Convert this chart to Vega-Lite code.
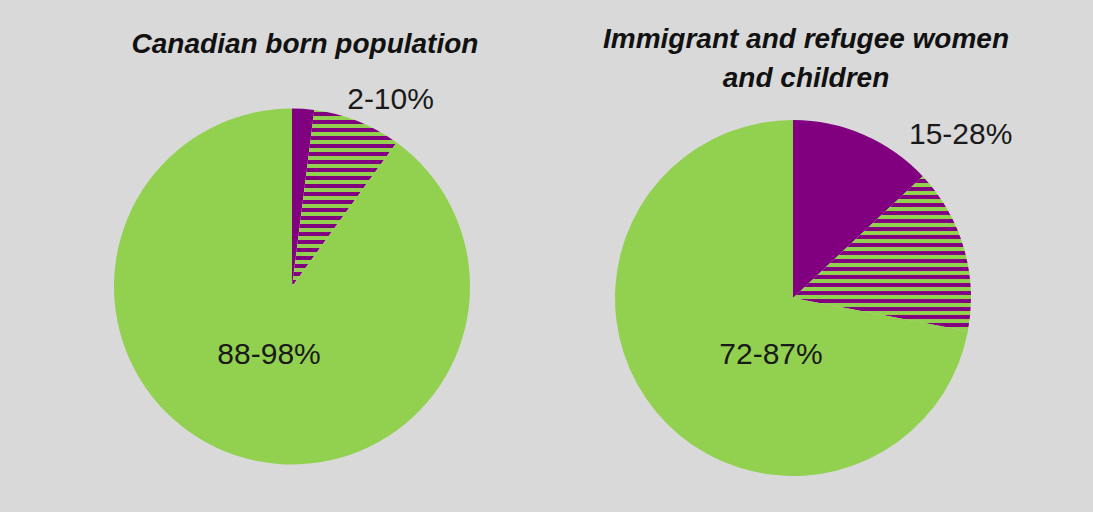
{
  "$schema": "https://vega.github.io/schema/vega-lite/v6.json",
  "width": 1093,
  "height": 512,
  "autosize": {"type": "fit", "contains": "padding"},
  "padding": 0,
  "background": "#d9d9d9",
  "config": {"view": {"stroke": null}},
  "data": {
    "values": [
      {"pie": "canadian", "title": "Canadian born population", "part": "low", "from": 0, "to": 2, "label": ""},
      {"pie": "canadian", "title": "Canadian born population", "part": "range", "from": 2, "to": 10, "label": "2-10%"},
      {"pie": "canadian", "title": "Canadian born population", "part": "rest", "from": 10, "to": 100, "label": "88-98%"},
      {"pie": "immigrant", "title": "Immigrant and refugee women\nand children", "part": "low", "from": 0, "to": 13, "label": ""},
      {"pie": "immigrant", "title": "Immigrant and refugee women\nand children", "part": "range", "from": 13, "to": 28, "label": "15-28%"},
      {"pie": "immigrant", "title": "Immigrant and refugee women\nand children", "part": "rest", "from": 28, "to": 100, "label": "72-87%"}
    ]
  },
  "encoding": {
    "x": {"field": "pie", "type": "nominal", "axis": null, "scale": {"type": "point", "padding": 0, "domain": ["canadian", "immigrant"], "range": [292, 793]}},
    "y": {"field": "pie", "type": "nominal", "axis": null, "scale": {"type": "point", "padding": 0, "domain": ["canadian", "immigrant"], "range": [286.5, 298]}}
  },
  "layer": [
    {
      "mark": {"type": "arc", "radius": 178},
      "encoding": {
        "theta": {"field": "from", "type": "quantitative", "stack": null, "scale": {"domain": [0, 100], "range": [0, 6.283185307]}},
        "theta2": {"field": "to"},
        "fill": {
          "condition": [
            {
              "test": "datum.part === 'range' && datum.pie === 'canadian'",
              "value": {
                "gradient": "linear", "x1": 0, "y1": 0, "x2": 0, "y2": 1,
                "stops": [
                  {"offset": 0, "color": "#92d050"},
                  {"offset": 0.0113, "color": "#92d050"}, {"offset": 0.0113, "color": "#800080"}, {"offset": 0.0340, "color": "#800080"}, {"offset": 0.0340, "color": "#92d050"},
                  {"offset": 0.0566, "color": "#92d050"}, {"offset": 0.0566, "color": "#800080"}, {"offset": 0.0793, "color": "#800080"}, {"offset": 0.0793, "color": "#92d050"},
                  {"offset": 0.1019, "color": "#92d050"}, {"offset": 0.1019, "color": "#800080"}, {"offset": 0.1246, "color": "#800080"}, {"offset": 0.1246, "color": "#92d050"},
                  {"offset": 0.1472, "color": "#92d050"}, {"offset": 0.1472, "color": "#800080"}, {"offset": 0.1699, "color": "#800080"}, {"offset": 0.1699, "color": "#92d050"},
                  {"offset": 0.1925, "color": "#92d050"}, {"offset": 0.1925, "color": "#800080"}, {"offset": 0.2152, "color": "#800080"}, {"offset": 0.2152, "color": "#92d050"},
                  {"offset": 0.2378, "color": "#92d050"}, {"offset": 0.2378, "color": "#800080"}, {"offset": 0.2605, "color": "#800080"}, {"offset": 0.2605, "color": "#92d050"},
                  {"offset": 0.2831, "color": "#92d050"}, {"offset": 0.2831, "color": "#800080"}, {"offset": 0.3058, "color": "#800080"}, {"offset": 0.3058, "color": "#92d050"},
                  {"offset": 0.3284, "color": "#92d050"}, {"offset": 0.3284, "color": "#800080"}, {"offset": 0.3511, "color": "#800080"}, {"offset": 0.3511, "color": "#92d050"},
                  {"offset": 0.3737, "color": "#92d050"}, {"offset": 0.3737, "color": "#800080"}, {"offset": 0.3964, "color": "#800080"}, {"offset": 0.3964, "color": "#92d050"},
                  {"offset": 0.4190, "color": "#92d050"}, {"offset": 0.4190, "color": "#800080"}, {"offset": 0.4417, "color": "#800080"}, {"offset": 0.4417, "color": "#92d050"},
                  {"offset": 0.4643, "color": "#92d050"}, {"offset": 0.4643, "color": "#800080"}, {"offset": 0.4870, "color": "#800080"}, {"offset": 0.4870, "color": "#92d050"},
                  {"offset": 0.5096, "color": "#92d050"}, {"offset": 0.5096, "color": "#800080"}, {"offset": 0.5323, "color": "#800080"}, {"offset": 0.5323, "color": "#92d050"},
                  {"offset": 0.5549, "color": "#92d050"}, {"offset": 0.5549, "color": "#800080"}, {"offset": 0.5776, "color": "#800080"}, {"offset": 0.5776, "color": "#92d050"},
                  {"offset": 0.6002, "color": "#92d050"}, {"offset": 0.6002, "color": "#800080"}, {"offset": 0.6229, "color": "#800080"}, {"offset": 0.6229, "color": "#92d050"},
                  {"offset": 0.6455, "color": "#92d050"}, {"offset": 0.6455, "color": "#800080"}, {"offset": 0.6682, "color": "#800080"}, {"offset": 0.6682, "color": "#92d050"},
                  {"offset": 0.6908, "color": "#92d050"}, {"offset": 0.6908, "color": "#800080"}, {"offset": 0.7135, "color": "#800080"}, {"offset": 0.7135, "color": "#92d050"},
                  {"offset": 0.7361, "color": "#92d050"}, {"offset": 0.7361, "color": "#800080"}, {"offset": 0.7588, "color": "#800080"}, {"offset": 0.7588, "color": "#92d050"},
                  {"offset": 0.7814, "color": "#92d050"}, {"offset": 0.7814, "color": "#800080"}, {"offset": 0.8041, "color": "#800080"}, {"offset": 0.8041, "color": "#92d050"},
                  {"offset": 0.8267, "color": "#92d050"}, {"offset": 0.8267, "color": "#800080"}, {"offset": 0.8494, "color": "#800080"}, {"offset": 0.8494, "color": "#92d050"},
                  {"offset": 0.8720, "color": "#92d050"}, {"offset": 0.8720, "color": "#800080"}, {"offset": 0.8947, "color": "#800080"}, {"offset": 0.8947, "color": "#92d050"},
                  {"offset": 0.9173, "color": "#92d050"}, {"offset": 0.9173, "color": "#800080"}, {"offset": 0.9400, "color": "#800080"}, {"offset": 0.9400, "color": "#92d050"},
                  {"offset": 0.9626, "color": "#92d050"}, {"offset": 0.9626, "color": "#800080"}, {"offset": 0.9853, "color": "#800080"}, {"offset": 0.9853, "color": "#92d050"},
                  {"offset": 1, "color": "#92d050"}
                ]
              }
            },
            {
              "test": "datum.part === 'range' && datum.pie === 'immigrant'",
              "value": {
                "gradient": "linear", "x1": 0, "y1": 0, "x2": 0, "y2": 1,
                "stops": [
                  {"offset": 0, "color": "#92d050"},
                  {"offset": 0.0193, "color": "#92d050"}, {"offset": 0.0193, "color": "#800080"}, {"offset": 0.0451, "color": "#800080"}, {"offset": 0.0451, "color": "#92d050"},
                  {"offset": 0.0709, "color": "#92d050"}, {"offset": 0.0709, "color": "#800080"}, {"offset": 0.0966, "color": "#800080"}, {"offset": 0.0966, "color": "#92d050"},
                  {"offset": 0.1224, "color": "#92d050"}, {"offset": 0.1224, "color": "#800080"}, {"offset": 0.1482, "color": "#800080"}, {"offset": 0.1482, "color": "#92d050"},
                  {"offset": 0.1740, "color": "#92d050"}, {"offset": 0.1740, "color": "#800080"}, {"offset": 0.1997, "color": "#800080"}, {"offset": 0.1997, "color": "#92d050"},
                  {"offset": 0.2255, "color": "#92d050"}, {"offset": 0.2255, "color": "#800080"}, {"offset": 0.2513, "color": "#800080"}, {"offset": 0.2513, "color": "#92d050"},
                  {"offset": 0.2771, "color": "#92d050"}, {"offset": 0.2771, "color": "#800080"}, {"offset": 0.3028, "color": "#800080"}, {"offset": 0.3028, "color": "#92d050"},
                  {"offset": 0.3286, "color": "#92d050"}, {"offset": 0.3286, "color": "#800080"}, {"offset": 0.3544, "color": "#800080"}, {"offset": 0.3544, "color": "#92d050"},
                  {"offset": 0.3802, "color": "#92d050"}, {"offset": 0.3802, "color": "#800080"}, {"offset": 0.4059, "color": "#800080"}, {"offset": 0.4059, "color": "#92d050"},
                  {"offset": 0.4317, "color": "#92d050"}, {"offset": 0.4317, "color": "#800080"}, {"offset": 0.4575, "color": "#800080"}, {"offset": 0.4575, "color": "#92d050"},
                  {"offset": 0.4832, "color": "#92d050"}, {"offset": 0.4832, "color": "#800080"}, {"offset": 0.5090, "color": "#800080"}, {"offset": 0.5090, "color": "#92d050"},
                  {"offset": 0.5348, "color": "#92d050"}, {"offset": 0.5348, "color": "#800080"}, {"offset": 0.5606, "color": "#800080"}, {"offset": 0.5606, "color": "#92d050"},
                  {"offset": 0.5863, "color": "#92d050"}, {"offset": 0.5863, "color": "#800080"}, {"offset": 0.6121, "color": "#800080"}, {"offset": 0.6121, "color": "#92d050"},
                  {"offset": 0.6379, "color": "#92d050"}, {"offset": 0.6379, "color": "#800080"}, {"offset": 0.6637, "color": "#800080"}, {"offset": 0.6637, "color": "#92d050"},
                  {"offset": 0.6894, "color": "#92d050"}, {"offset": 0.6894, "color": "#800080"}, {"offset": 0.7152, "color": "#800080"}, {"offset": 0.7152, "color": "#92d050"},
                  {"offset": 0.7410, "color": "#92d050"}, {"offset": 0.7410, "color": "#800080"}, {"offset": 0.7668, "color": "#800080"}, {"offset": 0.7668, "color": "#92d050"},
                  {"offset": 0.7925, "color": "#92d050"}, {"offset": 0.7925, "color": "#800080"}, {"offset": 0.8183, "color": "#800080"}, {"offset": 0.8183, "color": "#92d050"},
                  {"offset": 0.8441, "color": "#92d050"}, {"offset": 0.8441, "color": "#800080"}, {"offset": 0.8698, "color": "#800080"}, {"offset": 0.8698, "color": "#92d050"},
                  {"offset": 0.8956, "color": "#92d050"}, {"offset": 0.8956, "color": "#800080"}, {"offset": 0.9214, "color": "#800080"}, {"offset": 0.9214, "color": "#92d050"},
                  {"offset": 0.9472, "color": "#92d050"}, {"offset": 0.9472, "color": "#800080"}, {"offset": 0.9729, "color": "#800080"}, {"offset": 0.9729, "color": "#92d050"},
                  {"offset": 1, "color": "#92d050"}
                ]
              }
            }
          ],
          "field": "part",
          "type": "nominal",
          "scale": {"domain": ["low", "range", "rest"], "range": ["#800080", "#800080", "#92d050"]},
          "legend": null
        }
      }
    },
    {
      "transform": [{"filter": "datum.pie === 'canadian' && datum.part === 'range'"}],
      "mark": {"type": "text", "theta": 0.486, "radius": 211, "font": "Liberation Sans", "fontSize": 30, "align": "center", "baseline": "middle", "color": "#1a1a1a"},
      "encoding": {"text": {"field": "label"}}
    },
    {
      "transform": [{"filter": "datum.pie === 'canadian' && datum.part === 'rest'"}],
      "mark": {"type": "text", "theta": 3.466, "radius": 72, "font": "Liberation Sans", "fontSize": 30, "align": "center", "baseline": "middle", "color": "#1a1a1a"},
      "encoding": {"text": {"field": "label"}}
    },
    {
      "transform": [{"filter": "datum.pie === 'immigrant' && datum.part === 'range'"}],
      "mark": {"type": "text", "theta": 0.799, "radius": 234, "font": "Liberation Sans", "fontSize": 30, "align": "center", "baseline": "middle", "color": "#1a1a1a"},
      "encoding": {"text": {"field": "label"}}
    },
    {
      "transform": [{"filter": "datum.pie === 'immigrant' && datum.part === 'rest'"}],
      "mark": {"type": "text", "theta": 3.510, "radius": 61, "font": "Liberation Sans", "fontSize": 30, "align": "center", "baseline": "middle", "color": "#1a1a1a"},
      "encoding": {"text": {"field": "label"}}
    },
    {
      "transform": [{"filter": "datum.pie === 'canadian' && datum.part === 'low'"}],
      "mark": {"type": "text", "theta": 0.0556, "radius": 234, "font": "Liberation Sans", "fontSize": 28, "fontWeight": "bold", "fontStyle": "italic", "align": "center", "baseline": "alphabetic", "color": "#111111"},
      "encoding": {"text": {"field": "title"}}
    },
    {
      "transform": [{"filter": "datum.pie === 'immigrant' && datum.part === 'low'"}],
      "mark": {"type": "text", "theta": 0.052, "radius": 250, "font": "Liberation Sans", "fontSize": 28, "fontWeight": "bold", "fontStyle": "italic", "align": "center", "baseline": "alphabetic", "lineBreak": "\n", "lineHeight": 39, "color": "#111111"},
      "encoding": {"text": {"field": "title"}}
    }
  ]
}
